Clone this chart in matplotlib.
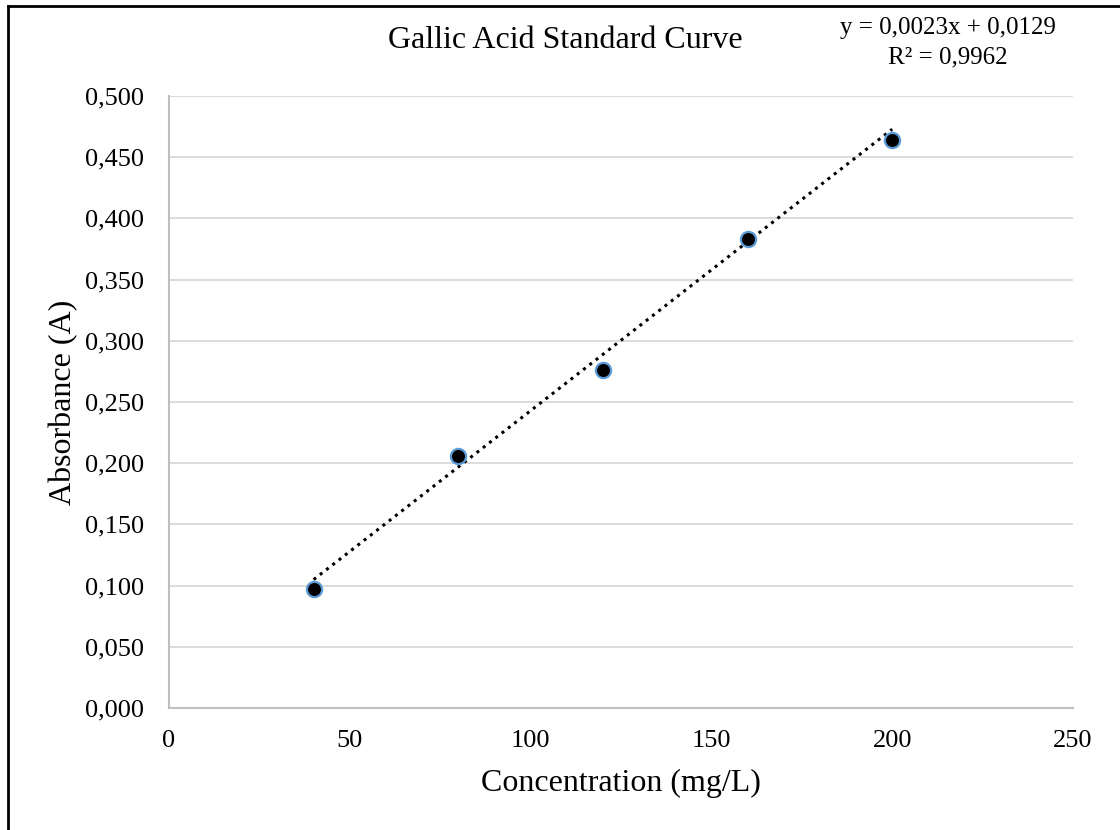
import numpy as np
import matplotlib.pyplot as plt
from matplotlib.lines import Line2D
from matplotlib.ticker import FuncFormatter

plt.rcParams['font.family'] = ['Liberation Serif', 'DejaVu Serif']

conc = [40, 80, 120, 160, 200]
absorb = [0.097, 0.206, 0.276, 0.383, 0.464]
slope = 0.0023
intercept = 0.0129
r2 = 0.9962

W, H = 1120, 830
fig = plt.figure(figsize=(W / 100, H / 100), dpi=100)
ax = fig.add_axes([169 / W, 1 - 708 / H, (1073 - 169) / W, (708 - 96) / H])

xs = np.array([conc[0], conc[-1]])
ax.plot(xs, slope * xs + intercept, color='black', linestyle=(0, (1, 1.6)), linewidth=2.2, zorder=2)
ax.scatter(conc, absorb, s=120, color='black', edgecolors='#5B9BD5', linewidths=1.6, zorder=3)

ax.set_xlim(0, 250)
ax.set_ylim(0, 0.5)
ax.set_xticks(range(0, 251, 50))
ax.set_yticks(np.arange(0, 0.501, 0.05))
ax.yaxis.set_major_formatter(FuncFormatter(lambda v, p: f"{v:.3f}".replace('.', ',')))
ax.grid(axis='y', color='#D9D9D9', linewidth=1.3)
ax.set_axisbelow(True)
for s in ['top', 'right']:
    ax.spines[s].set_visible(False)
for s in ['left', 'bottom']:
    ax.spines[s].set_color('#BFBFBF')
    ax.spines[s].set_linewidth(1.5)
ax.tick_params(length=0, labelsize=19, colors='black')
ax.tick_params(axis='y', pad=18)
ax.tick_params(axis='x', pad=16)

ax.set_xlabel('Concentration (mg/L)', fontsize=23)
ax.set_ylabel('Absorbance (A)', fontsize=23)
ax.xaxis.set_label_coords((621 - 169) / (1073 - 169), -(783 - 708) / (708 - 96))
ax.yaxis.set_label_coords(-(169 - 64) / (1073 - 169), 0.5)
ax.xaxis.label.set_va('center')
ax.yaxis.label.set_va('center')

fig.text(565 / W, 1 - 40 / H, 'Gallic Acid Standard Curve', fontsize=23, ha='center', va='center')
eq = f"y = {slope:.4f}x + {intercept:.4f}".replace('.', ',')
r2txt = f"R² = {r2:.4f}".replace('.', ',')
fig.text(948 / W, 1 - 28 / H, eq, fontsize=18, ha='center', va='center')
fig.text(948 / W, 1 - 57 / H, r2txt, fontsize=18, ha='center', va='center')

fig.add_artist(Line2D([8 / W, 8 / W], [0, 1 - 6 / H], color='black', linewidth=2, transform=fig.transFigure))
fig.add_artist(Line2D([8 / W, 1], [1 - 6 / H, 1 - 6 / H], color='black', linewidth=2, transform=fig.transFigure))

fig.savefig('out.png', dpi=100)
